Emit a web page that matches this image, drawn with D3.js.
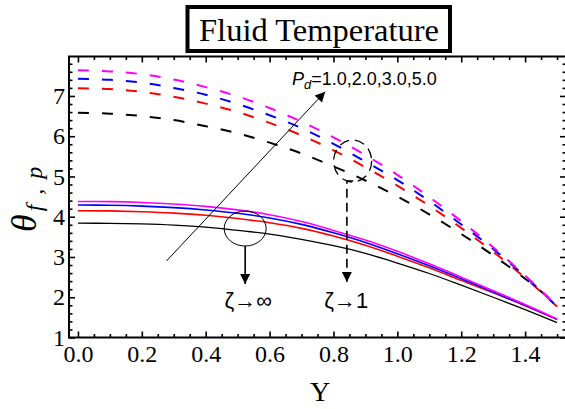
<!DOCTYPE html>
<html><head><meta charset="utf-8">
<script src="https://cdn.jsdelivr.net/npm/d3@7"></script>
<style>body{margin:0;background:#fff}svg{display:block}</style>
</head><body><svg id="c" width="565" height="409"></svg>
<script>
// ---- data ----
const yValues = [0,0.1,0.2,0.3,0.4,0.5,0.6,0.7,0.8,0.9,1.0,1.1,1.2,1.3,1.4,1.5];
// zeta -> infinity (solid)
const solidBlack   = [3.84,3.835,3.82,3.79,3.74,3.66,3.57,3.44,3.28,3.09,2.85,2.59,2.30,2.00,1.69,1.37];
const solidRed     = [4.15,4.145,4.125,4.09,4.035,3.955,3.85,3.71,3.52,3.29,3.02,2.73,2.42,2.11,1.79,1.45];
const solidBlue    = [4.29,4.284,4.264,4.227,4.169,4.086,3.97,3.81,3.60,3.36,3.08,2.78,2.46,2.13,1.80,1.45];
const solidMagenta = [4.38,4.374,4.353,4.315,4.256,4.17,4.05,3.88,3.66,3.42,3.14,2.83,2.50,2.16,1.82,1.46];
// zeta -> 1 (dashed)
const dashBlack    = [6.58,6.56,6.50,6.40,6.25,6.07,5.84,5.57,5.25,4.90,4.50,4.06,3.57,3.04,2.46,1.82];
const dashRed      = [7.19,7.17,7.10,6.98,6.81,6.60,6.33,6.02,5.65,5.23,4.77,4.27,3.72,3.13,2.48,1.77];
const dashBlue     = [7.43,7.40,7.33,7.20,7.03,6.80,6.52,6.20,5.81,5.37,4.91,4.39,3.81,3.20,2.52,1.77];
const dashMagenta  = [7.64,7.61,7.54,7.41,7.22,6.99,6.70,6.36,5.97,5.53,5.04,4.49,3.89,3.24,2.54,1.78];
const seriesColors = ["#000000","#ff0000","#0000ff","#ff00ff"];
const xTicks = [0,0.2,0.4,0.6,0.8,1.0,1.2,1.4];
const yTicks = [1,2,3,4,5,6,7];
const titleText = "Fluid Temperature";
const pdLabel = "=1.0,2.0,3.0,5.0";

// ---- setup ----
const svg = d3.select("#c");
const x = d3.scaleLinear().domain([-0.028, 1.528]).range([69, 566]);
const y = d3.scaleLinear().domain([1, 7.98]).range([337.5, 56.5]);
const serif = "'Liberation Serif','Times New Roman',serif";
const sans = "'Liberation Sans',Arial,sans-serif";

const defs = svg.append("defs");
defs.append("marker").attr("id","ah").attr("viewBox","0 0 10 10").attr("refX",10).attr("refY",5)
  .attr("markerWidth",15).attr("markerHeight",10).attr("markerUnits","userSpaceOnUse").attr("orient","auto")
  .append("path").attr("d","M0,0 L10,5 L0,10 Z").attr("fill","#000");

// curves
const line = d3.line().x((d,i)=>x(yValues[i])).y(d=>y(d)).curve(d3.curveCatmullRom.alpha(0.5));
const solids = [solidBlack, solidRed, solidBlue, solidMagenta];
const dashes = [dashBlack, dashRed, dashBlue, dashMagenta];
solids.forEach((s,i)=>{
  svg.append("path").attr("d",line(s)).attr("fill","none").attr("stroke",seriesColors[i])
    .attr("stroke-width", i===0?1.3:1.6);
});
dashes.forEach((s,i)=>{
  svg.append("path").attr("d",line(s)).attr("fill","none").attr("stroke",seriesColors[i])
    .attr("stroke-width",2).attr("stroke-dasharray","11,13");
});

// frame
svg.append("rect").attr("x",x.range()[0]).attr("y",y.range()[1])
  .attr("width",x.range()[1]-x.range()[0]).attr("height",y.range()[0]-y.range()[1])
  .attr("fill","none").attr("stroke","#000").attr("stroke-width",2);

// axes
const xMinor = d3.range(0,1.5001,0.05).filter(v=>!xTicks.some(t=>Math.abs(t-v)<1e-6));
const yMinor = d3.range(1,7.9001,0.2).filter(v=>!yTicks.some(t=>Math.abs(t-v)<1e-6));
function styleAxis(g){ g.select(".domain").remove(); g.selectAll("line").attr("stroke","#000").attr("stroke-width",1.6); }
const bottomG = svg.append("g").attr("transform",`translate(0,${y.range()[0]})`)
  .call(d3.axisBottom(x).tickValues(xTicks).tickSize(-6).tickPadding(7).tickFormat(d3.format(".1f")));
styleAxis(bottomG);
bottomG.selectAll("text").attr("font-family",serif).attr("font-size",24).attr("fill","#000");
svg.append("g").attr("transform",`translate(0,${y.range()[0]})`)
  .call(d3.axisBottom(x).tickValues(xMinor).tickSize(-3.5).tickFormat("")).call(styleAxis);
svg.append("g").attr("transform",`translate(0,${y.range()[1]})`)
  .call(d3.axisTop(x).tickValues(xTicks).tickSize(-6).tickFormat("")).call(styleAxis);
svg.append("g").attr("transform",`translate(0,${y.range()[1]})`)
  .call(d3.axisTop(x).tickValues(xMinor).tickSize(-3.5).tickFormat("")).call(styleAxis);
const leftG = svg.append("g").attr("transform",`translate(${x.range()[0]},0)`)
  .call(d3.axisLeft(y).tickValues(yTicks).tickSize(-6).tickPadding(4).tickFormat(d3.format("d")));
styleAxis(leftG);
leftG.selectAll("text").attr("font-family",serif).attr("font-size",24).attr("fill","#000");
svg.append("g").attr("transform",`translate(${x.range()[0]},0)`)
  .call(d3.axisLeft(y).tickValues(yMinor).tickSize(-3.5).tickFormat("")).call(styleAxis);
svg.append("g").attr("transform",`translate(${x.range()[1]},0)`)
  .call(d3.axisRight(y).tickValues(yTicks).tickSize(-6).tickFormat("")).call(styleAxis);
svg.append("g").attr("transform",`translate(${x.range()[1]},0)`)
  .call(d3.axisRight(y).tickValues(yMinor).tickSize(-3.5).tickFormat("")).call(styleAxis);

// axis titles
svg.append("text").attr("x",320).attr("y",401).attr("text-anchor","middle")
  .attr("font-family",serif).attr("font-size",28).text("Y");
const yl = svg.append("text").attr("transform","translate(36,232) rotate(-90)")
  .attr("font-family",serif).attr("font-style","italic");
yl.append("tspan").attr("font-size",36).text("θ");
yl.append("tspan").attr("font-size",24).attr("dy",6).attr("dx",3).attr("letter-spacing",2).text("f , p");

// title box
svg.append("rect").attr("x",187.5).attr("y",7).attr("width",262.5).attr("height",44)
  .attr("fill","#fff").attr("stroke","#000").attr("stroke-width",4);
svg.append("text").attr("x",319).attr("y",41).attr("text-anchor","middle")
  .attr("font-family",serif).attr("font-size",32.5).text(titleText);

// annotations
svg.append("line").attr("x1",x(0.277)).attr("y1",y(2.90)).attr("x2",x(0.774)).attr("y2",y(7.105))
  .attr("stroke","#000").attr("stroke-width",1).attr("marker-end","url(#ah)");
const pd = svg.append("text").attr("x",x(0.67)).attr("y",y(7.27)).attr("font-family",sans).attr("font-size",18);
pd.append("tspan").attr("font-style","italic").text("P");
pd.append("tspan").attr("font-style","italic").attr("font-size",13).attr("dy",4).text("d");
pd.append("tspan").attr("dy",-4).text(pdLabel);

svg.append("ellipse").attr("cx",x(0.5235)).attr("cy",y(3.707)).attr("rx",21).attr("ry",17.5)
  .attr("fill","none").attr("stroke","#000").attr("stroke-width",1);
svg.append("line").attr("x1",x(0.5235)).attr("y1",y(3.27)).attr("x2",x(0.5235)).attr("y2",y(2.33))
  .attr("stroke","#000").attr("stroke-width",1.6).attr("marker-end","url(#ah)");
svg.append("ellipse").attr("cx",x(0.860)).attr("cy",y(5.384)).attr("rx",19).attr("ry",21)
  .attr("fill","none").attr("stroke","#000").attr("stroke-width",1.3).attr("stroke-dasharray","10,6");
svg.append("path").attr("d",`M${x(0.862)},${y(4.887)} L${x(0.842)},${y(4.887)} L${x(0.842)},${y(2.379)}`)
  .attr("fill","none").attr("stroke","#000").attr("stroke-width",1.6).attr("stroke-dasharray","9,5")
  .attr("marker-end","url(#ah)");

svg.append("text").attr("x",x(0.533)).attr("y",y(1.733)).attr("text-anchor","middle")
  .attr("font-family",sans).attr("font-size",22).text("ζ→∞");
svg.append("text").attr("x",x(0.840)).attr("y",y(1.733)).attr("text-anchor","middle")
  .attr("font-family",sans).attr("font-size",22).text("ζ→1");
</script></body></html>
